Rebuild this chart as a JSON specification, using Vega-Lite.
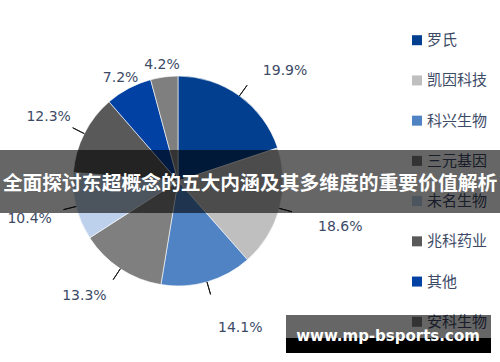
{
  "$schema": "https://vega.github.io/schema/vega-lite/v6.json",
  "width": 356,
  "height": 362,
  "autosize": {"type": "none"},
  "padding": {"left": 0, "top": 0, "right": 144, "bottom": 0},
  "background": "white",
  "config": {"view": {"stroke": null}},
  "datasets": {
    "shares": [
      {"company": "罗氏", "share": 0.199},
      {"company": "凯因科技", "share": 0.186},
      {"company": "科兴生物", "share": 0.141},
      {"company": "三元基因", "share": 0.133},
      {"company": "未名生物", "share": 0.104},
      {"company": "兆科药业", "share": 0.123},
      {"company": "其他", "share": 0.072},
      {"company": "安科生物", "share": 0.042}
    ],
    "banner": [{"t": "全面探讨东超概念的五大内涵及其多维度的重要价值解析"}],
    "mark": [{"t": "www.mp-bsports.com"}]
  },
  "resolve": {"scale": {"y": "independent"}},
  "layer": [
    {
      "data": {"name": "shares"},
      "transform": [
        {"window": [{"op": "row_number", "as": "rank"}]},
        {"stack": "share", "groupby": [], "sort": [{"field": "rank"}], "as": ["s0", "s1"]}
      ],
      "mark": {"type": "arc", "outerRadius": 105, "stroke": "white", "strokeWidth": 0.6},
      "encoding": {
        "theta": {"field": "s0", "type": "quantitative", "scale": {"domain": [0, 1]}},
        "theta2": {"field": "s1"},
        "color": {
          "field": "company", "type": "nominal",
          "scale": {
            "domain": ["罗氏", "凯因科技", "科兴生物", "三元基因", "未名生物", "兆科药业", "其他", "安科生物"],
            "range": ["#023f8e", "#bfbfbf", "#4f83c4", "#7f7f7f", "#bdd1ec", "#595959", "#0041a3", "#7f7f7f"]
          },
          "legend": null
        }
      }
    },
    {
      "data": {"name": "shares"},
      "transform": [
        {"window": [{"op": "row_number", "as": "rank"}]},
        {"stack": "share", "groupby": [], "sort": [{"field": "rank"}], "as": ["s0", "s1"]},
        {"fold": ["s0", "s1"], "as": ["edge", "pos"]},
        {"aggregate": [{"op": "mean", "field": "pos", "as": "mid"}], "groupby": ["company", "share"]}
      ],
      "layer": [
        {
          "transform": [{"filter": "datum.mid < 0.9"}],
          "mark": {"type": "arc", "radius": 118, "radius2": 105, "filled": false, "stroke": "#1a1a1a", "strokeWidth": 1},
          "encoding": {
            "theta": {"field": "mid", "type": "quantitative", "scale": {"domain": [0, 1]}, "stack": null},
            "theta2": {"field": "mid"}
          }
        },
        {
          "transform": [{"filter": "datum.mid < 0.5"}],
          "mark": {"type": "text", "radius": 145, "align": "left", "baseline": "middle", "dy": 8, "font": "DejaVu Sans", "fontSize": 14, "fill": "#3c4a66"},
          "encoding": {
            "theta": {"field": "mid", "type": "quantitative", "scale": {"domain": [0, 1]}, "stack": null},
            "text": {"field": "share", "type": "quantitative", "format": ".1%"}
          }
        },
        {
          "transform": [{"filter": "datum.mid >= 0.5 && datum.mid < 0.8"}],
          "mark": {"type": "text", "radius": 130, "align": "right", "baseline": "middle", "dy": 6, "font": "DejaVu Sans", "fontSize": 14, "fill": "#3c4a66"},
          "encoding": {
            "theta": {"field": "mid", "type": "quantitative", "scale": {"domain": [0, 1]}, "stack": null},
            "text": {"field": "share", "type": "quantitative", "format": ".1%"}
          }
        },
        {
          "transform": [{"filter": "datum.mid >= 0.8 && datum.mid < 0.9"}],
          "mark": {"type": "text", "radius": 120, "align": "right", "baseline": "middle", "dy": -10, "font": "DejaVu Sans", "fontSize": 14, "fill": "#3c4a66"},
          "encoding": {
            "theta": {"field": "mid", "type": "quantitative", "scale": {"domain": [0, 1]}, "stack": null},
            "text": {"field": "share", "type": "quantitative", "format": ".1%"}
          }
        },
        {
          "transform": [{"filter": "datum.mid >= 0.9"}],
          "mark": {"type": "text", "radius": 122, "align": "center", "baseline": "middle", "dy": 5, "font": "DejaVu Sans", "fontSize": 14, "fill": "#3c4a66"},
          "encoding": {
            "theta": {"field": "mid", "type": "quantitative", "scale": {"domain": [0, 1]}, "stack": null},
            "text": {"field": "share", "type": "quantitative", "format": ".1%"}
          }
        }
      ]
    },
    {
      "data": {"name": "shares"},
      "mark": {"type": "square", "size": 100, "filled": true, "opacity": 1},
      "encoding": {
        "x": {"datum": 417, "type": "quantitative", "scale": {"domain": [0, 356], "nice": false, "zero": false}, "axis": null},
        "y": {"field": "company", "type": "nominal", "scale": {"type": "point", "domain": ["罗氏", "凯因科技", "科兴生物", "三元基因", "未名生物", "兆科药业", "其他", "安科生物"], "padding": 1.24}, "axis": null},
        "color": {"field": "company", "type": "nominal", "legend": null}
      }
    },
    {
      "data": {"name": "shares"},
      "mark": {"type": "text", "align": "left", "baseline": "middle", "font": "Noto Sans CJK SC", "fontSize": 15, "fill": "#3c4a66"},
      "encoding": {
        "x": {"datum": 427, "type": "quantitative", "scale": {"domain": [0, 356], "nice": false, "zero": false}, "axis": null},
        "y": {"field": "company", "type": "nominal", "scale": {"type": "point", "domain": ["罗氏", "凯因科技", "科兴生物", "三元基因", "未名生物", "兆科药业", "其他", "安科生物"], "padding": 1.24}, "axis": null},
        "text": {"field": "company"}
      }
    },
    {
      "data": {"name": "banner"},
      "mark": {"type": "rect", "color": "black", "opacity": 0.6},
      "encoding": {
        "x": {"datum": 0, "type": "quantitative", "scale": {"domain": [0, 356], "nice": false, "zero": false}, "axis": null},
        "x2": {"datum": 500},
        "y": {"datum": 150, "type": "quantitative", "scale": {"domain": [0, 362], "nice": false, "zero": false, "reverse": true}, "axis": null},
        "y2": {"datum": 213}
      }
    },
    {
      "data": {"name": "banner"},
      "mark": {"type": "text", "align": "center", "baseline": "middle", "font": "Noto Sans CJK SC", "fontWeight": "bold", "fontSize": 19.8, "fill": "white"},
      "encoding": {
        "x": {"datum": 250, "type": "quantitative", "scale": {"domain": [0, 356], "nice": false, "zero": false}, "axis": null},
        "y": {"datum": 184, "type": "quantitative", "scale": {"domain": [0, 362], "nice": false, "zero": false, "reverse": true}, "axis": null},
        "text": {"field": "t"}
      }
    },
    {
      "data": {"name": "mark"},
      "mark": {"type": "rect", "color": "black", "opacity": 0.6},
      "encoding": {
        "x": {"datum": 286, "type": "quantitative", "scale": {"domain": [0, 356], "nice": false, "zero": false}, "axis": null},
        "x2": {"datum": 491},
        "y": {"datum": 315, "type": "quantitative", "scale": {"domain": [0, 362], "nice": false, "zero": false, "reverse": true}, "axis": null},
        "y2": {"datum": 338}
      }
    },
    {
      "data": {"name": "mark"},
      "mark": {"type": "rect", "color": "black", "opacity": 1},
      "encoding": {
        "x": {"datum": 286, "type": "quantitative", "scale": {"domain": [0, 356], "nice": false, "zero": false}, "axis": null},
        "x2": {"datum": 491},
        "y": {"datum": 338, "type": "quantitative", "scale": {"domain": [0, 362], "nice": false, "zero": false, "reverse": true}, "axis": null},
        "y2": {"datum": 353}
      }
    },
    {
      "data": {"name": "mark"},
      "mark": {"type": "text", "align": "center", "baseline": "middle", "font": "DejaVu Sans", "fontWeight": "bold", "fontSize": 15, "fill": "white"},
      "encoding": {
        "x": {"datum": 388, "type": "quantitative", "scale": {"domain": [0, 356], "nice": false, "zero": false}, "axis": null},
        "y": {"datum": 336, "type": "quantitative", "scale": {"domain": [0, 362], "nice": false, "zero": false, "reverse": true}, "axis": null},
        "text": {"field": "t"}
      }
    }
  ]
}
